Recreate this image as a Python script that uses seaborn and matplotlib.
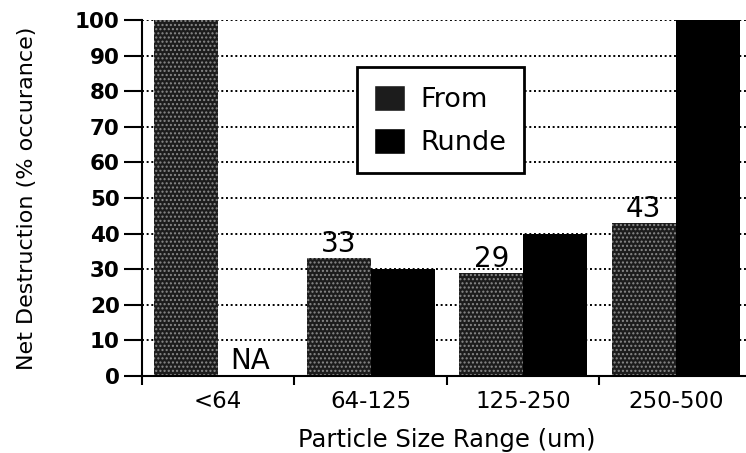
import numpy as np
import pandas as pd
import matplotlib
matplotlib.use("Agg")
import matplotlib.pyplot as plt
import seaborn as sns

sns.set_theme(style="white")
plt.rcParams['font.family'] = ['DejaVu Sans']
plt.rcParams['text.color'] = 'black'
plt.rcParams['axes.labelcolor'] = 'black'
plt.rcParams['xtick.color'] = 'black'
plt.rcParams['ytick.color'] = 'black'

# data
categories = ["<64", "64-125", "125-250", "250-500"]
from_vals = [100, 33, 29, 43]
runde_vals = [0, 30, 40, 100]
from_labels = ["", "33", "29", "43"]
runde_labels = ["NA", "", "", ""]
y_ticks = list(range(0, 101, 10))

df = pd.DataFrame({
    "Size": categories * 2,
    "Value": from_vals + runde_vals,
    "Source": ["From"] * 4 + ["Runde"] * 4,
})

fig = plt.figure(figsize=(7.46, 4.53), dpi=100)
ax = fig.add_axes([0.1903, 0.170, 0.8177, 0.786])

sns.barplot(data=df, x="Size", y="Value", hue="Source", order=categories,
            hue_order=["From", "Runde"], palette=["#1c1c1c", "black"],
            width=0.84, saturation=1, ax=ax, zorder=2)

# stippled look for the "From" bars
from_bars = ax.containers[0]
for p in from_bars.patches:
    p.set_hatch("....")
    p.set_edgecolor("#8a8a8a")
    p.set_linewidth(0)
for p in ax.containers[1].patches:
    p.set_linewidth(0)

ax.bar_label(from_bars, labels=from_labels, fontsize=20, padding=0, color="black")
ax.bar_label(ax.containers[1], labels=runde_labels, fontsize=20, padding=1, color="black")

n = len(categories)
ax.set_ylim(0, 100)
ax.set_xlim(-0.5, n - 0.5)
ax.set_yticks(y_ticks)
ax.set_yticklabels([str(t) for t in y_ticks], fontsize=15.5, fontweight="bold")
ax.set_xticks(np.arange(n))
ax.set_xticklabels(categories, fontsize=16.5)
ax.set_xticks(np.arange(n + 1) - 0.5, minor=True)

ax.yaxis.grid(True, linestyle=(0, (1, 1.4)), color="black", linewidth=1.4)
ax.set_axisbelow(True)

for s in ["top", "right"]:
    ax.spines[s].set_visible(False)
for s in ["left", "bottom"]:
    ax.spines[s].set_color("black")
    ax.spines[s].set_linewidth(1.5)

ax.tick_params(axis="y", which="major", direction="out", length=13, width=1.5,
               color="black", pad=3, left=True)
ax.tick_params(axis="x", which="major", length=0, pad=10)
ax.tick_params(axis="x", which="minor", direction="out", length=6.5, width=1.5,
               color="black", bottom=True)

ax.set_ylabel("Net Destruction (% occurance)", fontsize=16)
ax.yaxis.set_label_coords(-0.172, 0.5)
ax.set_xlabel("Particle Size Range (um)", fontsize=17.5)
ax.xaxis.set_label_coords(0.5, -0.145)

leg = ax.legend(loc="upper left", bbox_to_anchor=(0.352, 0.868), fontsize=19.5,
                frameon=True, fancybox=False, edgecolor="black",
                handlelength=1.15, handleheight=1.1, borderpad=0.65,
                labelspacing=0.55, handletextpad=0.55, borderaxespad=0)
leg.get_frame().set_linewidth(2)
leg.get_frame().set_facecolor("white")
leg.get_frame().set_alpha(1)

fig.savefig("out.png", dpi=100)
